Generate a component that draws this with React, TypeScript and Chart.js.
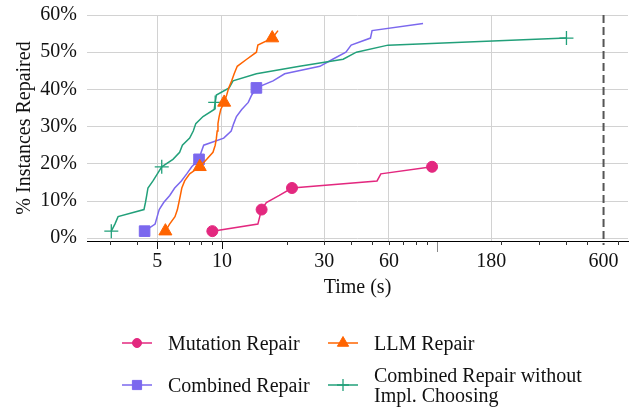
import { useEffect, useRef } from 'react';
import { Chart, registerables } from 'chart.js';
import { drawPoint } from 'chart.js/helpers';

Chart.register(...registerables);

const FONT = '"Liberation Serif", "Times New Roman", serif';

const PINK = '#e3287f';
const ORANGE = '#ff6400';
const PURPLE = '#7b68ee';
const GREEN = '#22a07a';
const GRID = '#d2d2d2';

// Mutation Repair
const mutationTimes = [9.02, 14.7, 15.0, 15.3, 16.1, 18.5, 21.2, 52.8, 55, 95.3];
const mutationPct = [1.9, 3.8, 5.8, 7.7, 9.6, 11.5, 13.5, 15.4, 17.3, 19.2];
const mutationMarks = [0, 3, 6, 9];

// LLM Repair
const llmTimes = [5.45, 5.7, 6.04, 6.2, 6.3, 6.4, 6.5, 6.7, 7.07, 7.88, 8.49, 9.08, 9.3, 9.42, 9.5, 9.58, 9.7, 9.87, 10.24, 10.52, 10.75, 11.1, 11.4, 11.78, 13.04, 14.47, 14.7, 17.15, 18.25];
const llmPct = [1.9, 3.8, 5.8, 7.7, 9.6, 11.5, 13.5, 15.4, 17.3, 19.2, 21.2, 23.1, 25.0, 26.9, 28.8, 30.8, 32.7, 34.6, 36.5, 38.5, 40.4, 42.3, 44.2, 46.2, 48.1, 50.0, 51.9, 53.8, 55.8];
const llmMarks = [0, 9, 18, 27];

// Combined Repair
const combinedTimes = [4.36, 4.88, 4.99, 5.1, 5.35, 5.71, 6.02, 6.47, 6.85, 7.23, 7.82, 8.0, 8.22, 10.19, 11.04, 11.34, 11.68, 12.36, 13.26, 13.76, 14.47, 17.3, 19.6, 28.6, 32.8, 37.8, 40.0, 49.2, 50.06, 86.5];
const combinedPct = [1.9, 3.8, 5.8, 7.7, 9.6, 11.5, 13.5, 15.4, 17.3, 19.2, 21.2, 23.1, 25.0, 26.9, 28.8, 30.8, 32.7, 34.6, 36.5, 38.5, 40.4, 42.3, 44.2, 46.2, 48.1, 50.0, 51.9, 53.8, 55.8, 57.7];
const combinedMarks = [0, 10, 20];

// Combined Repair without Impl. Choosing
const noChoiceTimes = [3.05, 3.17, 3.28, 4.33, 4.4, 4.46, 4.52, 4.77, 5.0, 5.24, 5.91, 6.35, 6.54, 7.07, 7.35, 7.55, 8.16, 9.2, 9.3, 9.42, 10.8, 11.26, 14.47, 23, 36.7, 42.3, 59.4, 403];
const noChoicePct = [1.9, 3.8, 5.8, 7.7, 9.6, 11.5, 13.5, 15.4, 17.3, 19.2, 21.2, 23.1, 25.0, 26.9, 28.8, 30.8, 32.7, 34.6, 36.5, 38.5, 40.4, 42.3, 44.2, 46.2, 48.1, 50.0, 51.9, 53.8];
const noChoiceMarks = [0, 9, 18, 27];

// Axes
const xTickValues = [3, 4, 5, 6, 7, 8, 9, 10, 20, 30, 40, 50, 60, 70, 80, 90, 100, 180, 200, 300, 400, 500, 600, 700];
const xLabelValues = [5, 10, 30, 60, 180, 600];
const xGridValues = [5, 10, 30, 60, 180];
const xMinorMarks = [3, 4, 6, 7, 8, 9, 20, 30, 40, 50, 60, 70, 80, 90, 200, 300, 400, 500, 700];
const xMajorMarks = [5, 10];
const xFaintMarks = [100];
const xLimit = 600;
const yTickValues = [0, 10, 20, 30, 40, 50, 60];

const legendItems = [
  { text: ['Mutation Repair'], color: PINK, style: 'circle', radius: 4.5, col: 0, row: 0 },
  { text: ['LLM Repair'], color: ORANGE, style: 'triangle', radius: 6.5, col: 1, row: 0 },
  { text: ['Combined Repair'], color: PURPLE, style: 'rect', radius: 6.5, col: 0, row: 1 },
  { text: ['Combined Repair without', 'Impl. Choosing'], color: GREEN, style: 'cross', radius: 6, col: 1, row: 1 },
];

function series(label: string, times: number[], pct: number[], marks: number[], color: string, style: string, radius: number, order: number) {
  return {
    label,
    data: times.map((t, i) => ({ x: t, y: pct[i] })),
    borderColor: color,
    backgroundColor: color,
    borderWidth: 1.5,
    pointStyle: style,
    pointRadius: (ctx: any) => (marks.includes(ctx.dataIndex) ? radius : 0),
    pointHoverRadius: 0,
    pointBorderWidth: style === 'cross' ? 1.3 : 1,
    pointBorderColor: color,
    pointBackgroundColor: color,
    tension: 0,
    fill: false,
    order,
    clip: false as any,
  };
}

const extrasPlugin = {
  id: 'extras',
  afterDatasetsDraw(chart: any) {
    const ctx = chart.ctx;
    const xs = chart.scales.x;
    const { top, bottom } = chart.chartArea;
    ctx.save();
    ctx.lineWidth = 1;
    const mark = (v: number, y0: number, y1: number, color: string) => {
      const px = Math.round(xs.getPixelForValue(v)) + 0.5;
      ctx.strokeStyle = color;
      ctx.beginPath();
      ctx.moveTo(px, y0);
      ctx.lineTo(px, y1);
      ctx.stroke();
    };
    xMinorMarks.forEach((v) => mark(v, bottom, bottom + 4, '#333'));
    xMajorMarks.forEach((v) => mark(v, bottom, bottom + 8, '#111'));
    xFaintMarks.forEach((v) => mark(v, bottom + 1, bottom + 11, '#888'));
    const lx = xs.getPixelForValue(xLimit);
    ctx.strokeStyle = '#555';
    ctx.lineWidth = 2;
    ctx.setLineDash([8, 4]);
    ctx.beginPath();
    ctx.moveTo(lx, top);
    ctx.lineTo(lx, bottom + 4);
    ctx.stroke();
    ctx.restore();
  },
  afterDraw(chart: any) {
    const ctx = chart.ctx;
    ctx.save();
    const colX = [122, 328];
    const rowY = [343, 385];
    legendItems.forEach((it) => {
      const x0 = colX[it.col];
      const y = rowY[it.row];
      ctx.strokeStyle = it.color;
      ctx.fillStyle = it.color;
      ctx.lineWidth = 1.5;
      ctx.setLineDash([]);
      ctx.beginPath();
      ctx.moveTo(x0, y);
      ctx.lineTo(x0 + 30, y);
      ctx.stroke();
      ctx.lineWidth = it.style === 'cross' ? 1.3 : 1;
      drawPoint(ctx, { pointStyle: it.style, radius: it.radius, borderWidth: 1, rotation: 0 } as any, x0 + 15, y);
      ctx.fillStyle = '#111';
      ctx.font = `20px ${FONT}`;
      ctx.textBaseline = 'alphabetic';
      ctx.textAlign = 'left';
      if (it.text.length === 1) {
        ctx.fillText(it.text[0], x0 + 46, y + 6.5);
      } else {
        ctx.fillText(it.text[0], x0 + 46, y - 3.5);
        ctx.fillText(it.text[1], x0 + 46, y + 16.5);
      }
    });
    ctx.restore();
  },
};

export default function App() {
  const ref = useRef<HTMLCanvasElement | null>(null);
  useEffect(() => {
    if (!ref.current) return;
    const chart = new Chart(ref.current, {
      type: 'line',
      data: {
        datasets: [
          series('Mutation Repair', mutationTimes, mutationPct, mutationMarks, PINK, 'circle', 5.5, 3),
          series('LLM Repair', llmTimes, llmPct, llmMarks, ORANGE, 'triangle', 7.5, 0),
          series('Combined Repair', combinedTimes, combinedPct, combinedMarks, PURPLE, 'rect', 7.5, 2),
          series('Combined Repair without Impl. Choosing', noChoiceTimes, noChoicePct, noChoiceMarks, GREEN, 'cross', 7, 1),
        ] as any,
      },
      options: {
        animation: false,
        responsive: false,
        devicePixelRatio: 1,
        events: [],
        layout: { padding: { left: 0, right: 16, top: 15, bottom: 107 } },
        plugins: { legend: { display: false }, tooltip: { enabled: false } },
        scales: {
          x: {
            type: 'logarithmic',
            min: 2.35,
            max: 780,
            afterBuildTicks: (scale: any) => {
              scale.ticks = xTickValues.map((v) => ({ value: v }));
            },
            afterFit: (scale: any) => {
              scale.height = 59;
              scale.paddingLeft = 0;
              scale.paddingRight = 0;
            },
            ticks: {
              autoSkip: false,
              maxRotation: 0,
              padding: 9,
              color: '#111',
              font: { family: FONT, size: 20 },
              callback: (v: any) => (xLabelValues.includes(Number(v)) ? String(v) : ''),
            },
            grid: {
              drawTicks: false,
              color: (c: any) => (c.tick && xGridValues.includes(c.tick.value) ? GRID : 'rgba(0,0,0,0)'),
              lineWidth: 1,
            },
            border: { display: true, color: '#000', width: 1 },
            title: {
              display: true,
              text: 'Time (s)',
              color: '#111',
              font: { family: FONT, size: 20 },
              padding: { top: 0, bottom: 0 },
            },
          },
          y: {
            type: 'linear',
            min: -0.75,
            max: 60,
            afterBuildTicks: (scale: any) => {
              scale.ticks = yTickValues.map((v) => ({ value: v }));
            },
            afterFit: (scale: any) => {
              scale.width = 87;
              scale.paddingTop = 0;
              scale.paddingBottom = 0;
            },
            ticks: {
              padding: 10,
              color: '#111',
              font: { family: FONT, size: 20 },
              callback: (v: any) => `${v}%`,
            },
            grid: { drawTicks: false, color: GRID, lineWidth: 1 },
            border: { display: false },
            title: {
              display: true,
              text: '% Instances Repaired',
              color: '#111',
              font: { family: FONT, size: 20 },
              padding: { top: 13, bottom: 0 },
            },
          },
        },
      } as any,
      plugins: [extrasPlugin],
    });
    return () => chart.destroy();
  }, []);
  return (
    <div style={{ position: 'fixed', left: 0, top: 0, width: 644, height: 407, background: '#fff' }}>
      <canvas ref={ref} width={644} height={407} />
    </div>
  );
}
